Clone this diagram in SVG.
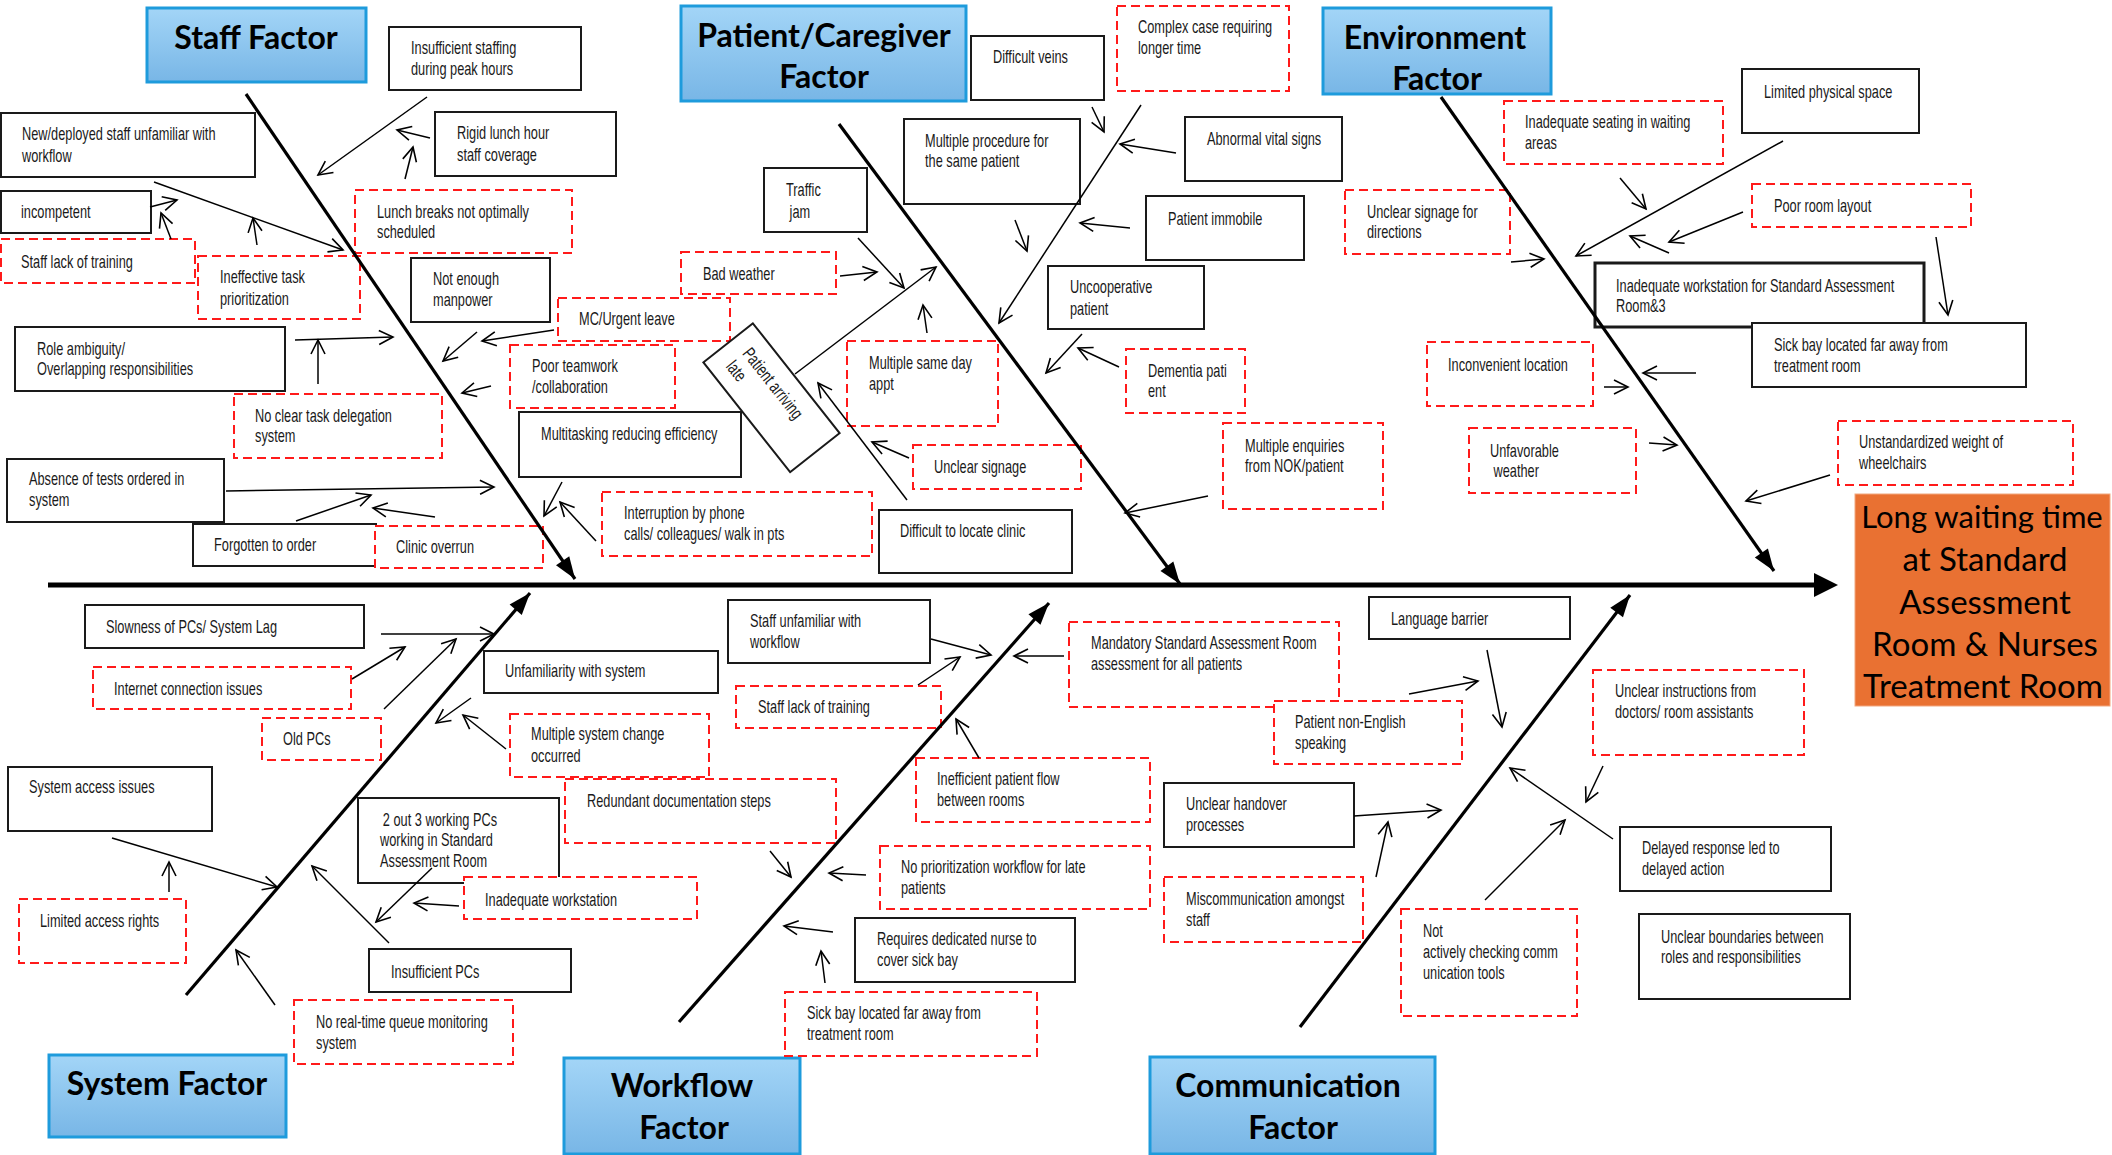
<svg xmlns="http://www.w3.org/2000/svg" width="2112" height="1155" viewBox="0 0 2112 1155">
<defs>
<linearGradient id="blue" x1="0" y1="0" x2="0" y2="1">
<stop offset="0" stop-color="#A3D5F7"/>
<stop offset="1" stop-color="#78B6E6"/>
</linearGradient>
<marker id="open" markerUnits="userSpaceOnUse" markerWidth="16" markerHeight="14" refX="15" refY="7" orient="auto" overflow="visible">
<path d="M1,0 L15,7 L1,14" fill="none" stroke="#000" stroke-width="1.6"/>
</marker>
<marker id="solid" markerUnits="userSpaceOnUse" markerWidth="24" markerHeight="16" refX="22" refY="8" orient="auto" overflow="visible">
<path d="M0,0 L22,8 L0,16 z" fill="#000"/>
</marker>
</defs>
<style>
.box{fill:#fff;stroke:#1a1a1a;stroke-width:2}
.dbox{fill:#fff;stroke:#FF1A1A;stroke-width:2;stroke-dasharray:9 5}
.hdr{fill:url(#blue);stroke:#1E9BDC;stroke-width:3}
.t{font-family:"Liberation Sans",Arial,sans-serif;font-size:18px;fill:#1a1a1a}
.ht{font-family:Lato,"Open Sans",sans-serif;font-weight:700;font-size:32px;fill:#000;text-anchor:middle}
.et{font-family:Lato,"Open Sans",sans-serif;font-size:33px;fill:#000;text-anchor:middle}
.ar{stroke:#000;stroke-width:1.5;fill:none;marker-end:url(#open)}
.bone{stroke:#000;stroke-width:3.2;fill:none;marker-end:url(#solid)}
</style>
<rect width="2112" height="1155" fill="#fff"/>

<g id="nodes">
<!-- Staff Factor -->
<g id="hdr-staff"><rect class="hdr" x="147" y="8" width="219" height="74"/><text class="ht" x="256" y="49">Staff Factor</text></g>
<g id="n-insuff-staff"><rect class="box" x="389" y="27" width="192" height="63"/><text class="t" transform="translate(411,54) scale(0.71,1)"><tspan x="0" y="0">Insufficient staffing</tspan><tspan x="0" y="21">during peak hours</tspan></text></g>
<g id="n-newstaff"><rect class="box" x="1" y="113" width="254" height="64"/><text class="t" transform="translate(22,140) scale(0.71,1)"><tspan x="0" y="0">New/deployed staff unfamiliar with</tspan><tspan x="0" y="22">workflow</tspan></text></g>
<g id="n-incompetent"><rect class="box" x="1" y="191" width="150" height="42"/><text class="t" transform="translate(21,218) scale(0.71,1)">incompetent</text></g>
<g id="n-stafftrain"><rect class="dbox" x="1" y="239" width="194" height="44"/><text class="t" transform="translate(21,268) scale(0.71,1)">Staff lack of training</text></g>
<g id="n-ineffective"><rect class="dbox" x="198" y="256" width="162" height="63"/><text class="t" transform="translate(220,283) scale(0.71,1)"><tspan x="0" y="0">Ineffective task</tspan><tspan x="0" y="22">prioritization</tspan></text></g>
<g id="n-rigidlunch"><rect class="box" x="435" y="112" width="181" height="64"/><text class="t" transform="translate(457,139) scale(0.71,1)"><tspan x="0" y="0">Rigid lunch hour</tspan><tspan x="0" y="22">staff coverage</tspan></text></g>
<g id="n-lunchbreaks"><rect class="dbox" x="355" y="190" width="217" height="63"/><text class="t" transform="translate(377,218) scale(0.71,1)"><tspan x="0" y="0">Lunch breaks not optimally</tspan><tspan x="0" y="20">scheduled</tspan></text></g>
<g id="n-manpower"><rect class="box" x="411" y="258" width="139" height="64"/><text class="t" transform="translate(433,285) scale(0.71,1)"><tspan x="0" y="0">Not enough</tspan><tspan x="0" y="21">manpower</tspan></text></g>
<g id="n-role"><rect class="box" x="15" y="327" width="270" height="64"/><text class="t" transform="translate(37,355) scale(0.71,1)"><tspan x="0" y="0">Role ambiguity/</tspan><tspan x="0" y="20">Overlapping responsibilities</tspan></text></g>
<g id="n-nodeleg"><rect class="dbox" x="234" y="394" width="208" height="64"/><text class="t" transform="translate(255,422) scale(0.71,1)"><tspan x="0" y="0">No clear task delegation</tspan><tspan x="0" y="20">system</tspan></text></g>
<g id="n-teamwork"><rect class="dbox" x="510" y="345" width="165" height="63"/><text class="t" transform="translate(532,372) scale(0.71,1)"><tspan x="0" y="0">Poor teamwork</tspan><tspan x="0" y="21">/collaboration</tspan></text></g>
<g id="n-mcleave"><rect class="dbox" x="558" y="298" width="172" height="43"/><text class="t" transform="translate(579,325) scale(0.71,1)">MC/Urgent leave</text></g>
<g id="n-absence"><rect class="box" x="7" y="459" width="217" height="63"/><text class="t" transform="translate(29,485) scale(0.71,1)"><tspan x="0" y="0">Absence of tests ordered in</tspan><tspan x="0" y="21">system</tspan></text></g>
<g id="n-forgotten"><rect class="box" x="193" y="524" width="183" height="42"/><text class="t" transform="translate(214,551) scale(0.71,1)">Forgotten to order</text></g>
<g id="n-overrun"><rect class="dbox" x="375" y="526" width="168" height="42"/><text class="t" transform="translate(396,553) scale(0.71,1)">Clinic overrun</text></g>
<g id="n-multitask"><rect class="box" x="519" y="412" width="222" height="65"/><text class="t" transform="translate(541,440) scale(0.71,1)">Multitasking reducing efficiency</text></g>
<g id="n-interrupt"><rect class="dbox" x="602" y="492" width="270" height="64"/><text class="t" transform="translate(624,519) scale(0.71,1)"><tspan x="0" y="0">Interruption by phone</tspan><tspan x="0" y="21">calls/  colleagues/ walk in pts</tspan></text></g>

<!-- Patient/Caregiver Factor -->
<g id="hdr-patient"><rect class="hdr" x="681" y="6" width="285" height="95"/><text class="ht" x="824" y="47">Patient/Caregiver</text><text class="ht" x="824" y="88">Factor</text></g>
<g id="n-veins"><rect class="box" x="971" y="36" width="133" height="64"/><text class="t" transform="translate(993,63) scale(0.71,1)">Difficult veins</text></g>
<g id="n-complex"><rect class="dbox" x="1117" y="6" width="172" height="85"/><text class="t" transform="translate(1138,33) scale(0.71,1)"><tspan x="0" y="0">Complex case requiring</tspan><tspan x="0" y="21">longer time</tspan></text></g>
<g id="n-multiproc"><rect class="box" x="904" y="119" width="176" height="85"/><text class="t" transform="translate(925,147) scale(0.71,1)"><tspan x="0" y="0">Multiple procedure for</tspan><tspan x="0" y="20">the same patient</tspan></text></g>
<g id="n-traffic"><rect class="box" x="764" y="168" width="103" height="64"/><text class="t" transform="translate(786,196) scale(0.71,1)"><tspan x="0" y="0">Traffic</tspan><tspan x="5" y="22">jam</tspan></text></g>
<g id="n-badweather"><rect class="dbox" x="681" y="252" width="155" height="42"/><text class="t" transform="translate(703,280) scale(0.71,1)">Bad weather</text></g>
<g id="n-vital"><rect class="box" x="1185" y="117" width="157" height="64"/><text class="t" transform="translate(1207,145) scale(0.71,1)">Abnormal vital  signs</text></g>
<g id="n-immobile"><rect class="box" x="1146" y="196" width="158" height="64"/><text class="t" transform="translate(1168,225) scale(0.71,1)">Patient immobile</text></g>
<g id="n-uncoop"><rect class="box" x="1048" y="266" width="156" height="63"/><text class="t" transform="translate(1070,293) scale(0.71,1)"><tspan x="0" y="0">Uncooperative</tspan><tspan x="0" y="22">patient</tspan></text></g>
<g id="n-dementia"><rect class="dbox" x="1126" y="349" width="119" height="64"/><text class="t" transform="translate(1148,377) scale(0.71,1)"><tspan x="0" y="0">Dementia pati</tspan><tspan x="0" y="20">ent</tspan></text></g>
<g id="n-sameday"><rect class="dbox" x="847" y="341" width="151" height="85"/><text class="t" transform="translate(869,369) scale(0.71,1)"><tspan x="0" y="0">Multiple same day</tspan><tspan x="0" y="21">appt</tspan></text></g>
<g id="n-arrivinglate" transform="translate(771.5,397.75) rotate(51.7)"><rect class="box" x="-70" y="-31.5" width="140" height="63"/><text class="t" transform="translate(-53,-4) scale(0.71,1)"><tspan x="0" y="0">Patient arriving</tspan><tspan x="0" y="21">late</tspan></text></g>
<g id="n-signage"><rect class="dbox" x="913" y="445" width="168" height="44"/><text class="t" transform="translate(934,473) scale(0.71,1)">Unclear signage</text></g>
<g id="n-locate"><rect class="box" x="879" y="510" width="193" height="63"/><text class="t" transform="translate(900,537) scale(0.71,1)">Difficult to locate clinic</text></g>
<g id="n-enquiries"><rect class="dbox" x="1223" y="423" width="160" height="86"/><text class="t" transform="translate(1245,452) scale(0.71,1)"><tspan x="0" y="0">Multiple enquiries</tspan><tspan x="0" y="20">from NOK/patient</tspan></text></g>

<!-- Environment Factor -->
<g id="hdr-env"><rect class="hdr" x="1323" y="8" width="228" height="86"/><text class="ht" x="1435" y="49">Environment</text><text class="ht" x="1437" y="90">Factor</text></g>
<g id="n-seating"><rect class="dbox" x="1504" y="101" width="219" height="63"/><text class="t" transform="translate(1525,128) scale(0.71,1)"><tspan x="0" y="0">Inadequate seating in waiting</tspan><tspan x="0" y="21">areas</tspan></text></g>
<g id="n-space"><rect class="box" x="1742" y="69" width="177" height="64"/><text class="t" transform="translate(1764,98) scale(0.71,1)">Limited physical space</text></g>
<g id="n-layout"><rect class="dbox" x="1752" y="184" width="219" height="43"/><text class="t" transform="translate(1774,212) scale(0.71,1)">Poor room layout</text></g>
<g id="n-signdir"><rect class="dbox" x="1345" y="190" width="165" height="64"/><text class="t" transform="translate(1367,218) scale(0.71,1)"><tspan x="0" y="0">Unclear signage for</tspan><tspan x="0" y="20">directions</tspan></text></g>
<g id="n-workstation"><rect class="box" x="1595" y="263" width="329" height="64" style="stroke-width:3"/><text class="t" transform="translate(1616,292) scale(0.71,1)"><tspan x="0" y="0">Inadequate workstation for Standard Assessment</tspan><tspan x="0" y="20">Room&amp;3</tspan></text></g>
<g id="n-sickbay"><rect class="box" x="1752" y="323" width="274" height="64"/><text class="t" transform="translate(1774,351) scale(0.71,1)"><tspan x="0" y="0">Sick bay located far away from</tspan><tspan x="0" y="21">treatment room</tspan></text></g>
<g id="n-location"><rect class="dbox" x="1427" y="342" width="166" height="64"/><text class="t" transform="translate(1448,371) scale(0.71,1)">Inconvenient location</text></g>
<g id="n-weather"><rect class="dbox" x="1469" y="428" width="167" height="65"/><text class="t" transform="translate(1490,457) scale(0.71,1)"><tspan x="0" y="0">Unfavorable</tspan><tspan x="5" y="20">weather</tspan></text></g>
<g id="n-wheelchair"><rect class="dbox" x="1838" y="421" width="235" height="64"/><text class="t" transform="translate(1859,448) scale(0.71,1)"><tspan x="0" y="0">Unstandardized weight of</tspan><tspan x="0" y="21">wheelchairs</tspan></text></g>

<!-- Effect -->
<g id="effect"><rect x="1855" y="494" width="255" height="212" fill="#E97132" stroke="#F2A77E" stroke-width="1"/>
<text class="et" x="1982" y="528" style="font-size:31px">Long waiting time</text>
<text class="et" x="1985" y="571">at Standard</text>
<text class="et" x="1985" y="614">Assessment</text>
<text class="et" x="1985" y="656">Room &amp; Nurses</text>
<text class="et" x="1983" y="698">Treatment Room</text></g>

<!-- System Factor -->
<g id="hdr-system"><rect class="hdr" x="49" y="1055" width="237" height="82"/><text class="ht" x="167" y="1095">System Factor</text></g>
<g id="n-slowness"><rect class="box" x="85" y="605" width="279" height="43"/><text class="t" transform="translate(106,633) scale(0.71,1)">Slowness of PCs/ System Lag</text></g>
<g id="n-internet"><rect class="dbox" x="93" y="667" width="258" height="42"/><text class="t" transform="translate(114,695) scale(0.71,1)">Internet connection issues</text></g>
<g id="n-oldpcs"><rect class="dbox" x="262" y="718" width="119" height="42"/><text class="t" transform="translate(283,745) scale(0.71,1)">Old PCs</text></g>
<g id="n-unfamiliar-sys"><rect class="box" x="484" y="651" width="234" height="42"/><text class="t" transform="translate(505,677) scale(0.71,1)">Unfamiliarity with system</text></g>
<g id="n-syschange"><rect class="dbox" x="510" y="714" width="199" height="63"/><text class="t" transform="translate(531,740) scale(0.71,1)"><tspan x="0" y="0">Multiple system change</tspan><tspan x="0" y="22">occurred</tspan></text></g>
<g id="n-access"><rect class="box" x="8" y="767" width="204" height="64"/><text class="t" transform="translate(29,793) scale(0.71,1)">System access issues</text></g>
<g id="n-rights"><rect class="dbox" x="19" y="899" width="167" height="64"/><text class="t" transform="translate(40,927) scale(0.71,1)">Limited access rights</text></g>
<g id="n-2of3"><rect class="box" x="358" y="798" width="201" height="85"/><text class="t" transform="translate(380,826) scale(0.71,1)"><tspan x="4" y="0">2 out 3 working PCs</tspan><tspan x="0" y="20">working in Standard</tspan><tspan x="0" y="41">Assessment Room</tspan></text></g>
<g id="n-sysworkstation"><rect class="dbox" x="464" y="877" width="233" height="42"/><text class="t" transform="translate(485,906) scale(0.71,1)">Inadequate workstation</text></g>
<g id="n-insuffpc"><rect class="box" x="369" y="949" width="202" height="43"/><text class="t" transform="translate(391,978) scale(0.71,1)">Insufficient PCs</text></g>
<g id="n-queue"><rect class="dbox" x="294" y="1000" width="219" height="64"/><text class="t" transform="translate(316,1028) scale(0.71,1)"><tspan x="0" y="0">No real-time queue monitoring</tspan><tspan x="0" y="21">system</tspan></text></g>

<!-- Workflow Factor -->
<g id="hdr-workflow"><rect class="hdr" x="564" y="1058" width="236" height="96"/><text class="ht" x="682" y="1097">Workflow</text><text class="ht" x="684" y="1139">Factor</text></g>
<g id="n-staffunfam"><rect class="box" x="728" y="600" width="202" height="63"/><text class="t" transform="translate(750,627) scale(0.71,1)"><tspan x="0" y="0">Staff unfamiliar with</tspan><tspan x="0" y="21">workflow</tspan></text></g>
<g id="n-wf-training"><rect class="dbox" x="736" y="686" width="205" height="42"/><text class="t" transform="translate(758,713) scale(0.71,1)">Staff lack of training</text></g>
<g id="n-mandatory"><rect class="dbox" x="1069" y="622" width="270" height="85"/><text class="t" transform="translate(1091,649) scale(0.71,1)"><tspan x="0" y="0">Mandatory Standard Assessment Room</tspan><tspan x="0" y="21">assessment for all patients</tspan></text></g>
<g id="n-flow"><rect class="dbox" x="916" y="758" width="234" height="64"/><text class="t" transform="translate(937,785) scale(0.71,1)"><tspan x="0" y="0">Inefficient patient flow</tspan><tspan x="0" y="21">between rooms</tspan></text></g>
<g id="n-redundant"><rect class="dbox" x="565" y="779" width="271" height="64"/><text class="t" transform="translate(587,807) scale(0.71,1)">Redundant documentation steps</text></g>
<g id="n-prioritization"><rect class="dbox" x="880" y="846" width="270" height="63"/><text class="t" transform="translate(901,873) scale(0.71,1)"><tspan x="0" y="0">No prioritization workflow for late</tspan><tspan x="0" y="21">patients</tspan></text></g>
<g id="n-dedicated"><rect class="box" x="855" y="918" width="220" height="64"/><text class="t" transform="translate(877,945) scale(0.71,1)"><tspan x="0" y="0">Requires dedicated nurse to</tspan><tspan x="0" y="21">cover sick bay</tspan></text></g>
<g id="n-wf-sickbay"><rect class="dbox" x="785" y="992" width="252" height="64"/><text class="t" transform="translate(807,1019) scale(0.71,1)"><tspan x="0" y="0">Sick bay located far away from</tspan><tspan x="0" y="21">treatment room</tspan></text></g>

<!-- Communication Factor -->
<g id="hdr-comm"><rect class="hdr" x="1150" y="1057" width="285" height="97"/><text class="ht" x="1288" y="1097">Communication</text><text class="ht" x="1293" y="1139">Factor</text></g>
<g id="n-language"><rect class="box" x="1369" y="597" width="201" height="42"/><text class="t" transform="translate(1391,625) scale(0.71,1)">Language barrier</text></g>
<g id="n-nonenglish"><rect class="dbox" x="1274" y="701" width="188" height="63"/><text class="t" transform="translate(1295,728) scale(0.71,1)"><tspan x="0" y="0">Patient non-English</tspan><tspan x="0" y="21">speaking</tspan></text></g>
<g id="n-handover"><rect class="box" x="1164" y="783" width="190" height="64"/><text class="t" transform="translate(1186,810) scale(0.71,1)"><tspan x="0" y="0">Unclear handover</tspan><tspan x="0" y="21">processes</tspan></text></g>
<g id="n-miscomm"><rect class="dbox" x="1164" y="877" width="199" height="65"/><text class="t" transform="translate(1186,905) scale(0.71,1)"><tspan x="0" y="0">Miscommunication amongst</tspan><tspan x="0" y="21">staff</tspan></text></g>
<g id="n-notchecking"><rect class="dbox" x="1401" y="909" width="176" height="107"/><text class="t" transform="translate(1423,937) scale(0.71,1)"><tspan x="0" y="0">Not</tspan><tspan x="0" y="21">actively checking comm</tspan><tspan x="0" y="42">unication tools</tspan></text></g>
<g id="n-delayed"><rect class="box" x="1620" y="827" width="211" height="64"/><text class="t" transform="translate(1642,854) scale(0.71,1)"><tspan x="0" y="0">Delayed response led to</tspan><tspan x="0" y="21">delayed action</tspan></text></g>
<g id="n-instructions"><rect class="dbox" x="1593" y="670" width="211" height="85"/><text class="t" transform="translate(1615,697) scale(0.71,1)"><tspan x="0" y="0">Unclear instructions from</tspan><tspan x="0" y="21">doctors/ room assistants</tspan></text></g>
<g id="n-boundaries"><rect class="box" x="1639" y="914" width="211" height="85"/><text class="t" transform="translate(1661,943) scale(0.71,1)"><tspan x="0" y="0">Unclear boundaries between</tspan><tspan x="0" y="20">roles and responsibilities</tspan></text></g>
</g>

<g id="connectors">
<!-- spine -->
<line x1="48" y1="585" x2="1818" y2="585" stroke="#000" stroke-width="5"/>
<polygon points="1814,573 1838,585 1814,597" fill="#000"/>
<!-- bones -->
<line class="bone" x1="246" y1="94" x2="575" y2="579"/>
<line class="bone" x1="839" y1="124" x2="1180" y2="584"/>
<line class="bone" x1="1441" y1="97" x2="1774" y2="571"/>
<line class="bone" x1="186" y1="995" x2="530" y2="593"/>
<line class="bone" x1="679" y1="1022" x2="1049" y2="603"/>
<line class="bone" x1="1300" y1="1027" x2="1630" y2="595"/>
<!-- staff -->
<line class="ar" x1="427" y1="97" x2="318" y2="175"/>
<line class="ar" x1="430" y1="138" x2="397" y2="130"/>
<line class="ar" x1="405" y1="179" x2="413" y2="147"/>
<line class="ar" x1="154" y1="182" x2="343" y2="250"/>
<line class="ar" x1="150" y1="207" x2="177" y2="200"/>
<line class="ar" x1="171" y1="239" x2="161" y2="213"/>
<line class="ar" x1="257" y1="245" x2="253" y2="218"/>
<line class="ar" x1="295" y1="340" x2="393" y2="337"/>
<line class="ar" x1="318" y1="384" x2="318" y2="340"/>
<line class="ar" x1="477" y1="332" x2="443" y2="361"/>
<line class="ar" x1="554" y1="330" x2="482" y2="341"/>
<line class="ar" x1="491" y1="386" x2="462" y2="393"/>
<line class="ar" x1="226" y1="491" x2="494" y2="487"/>
<line class="ar" x1="296" y1="521" x2="371" y2="495"/>
<line class="ar" x1="435" y1="517" x2="373" y2="508"/>
<line class="ar" x1="562" y1="482" x2="544" y2="516"/>
<line class="ar" x1="596" y1="541" x2="560" y2="502"/>
<!-- patient -->
<line class="ar" x1="795" y1="374" x2="936" y2="267"/>
<line class="ar" x1="858" y1="238" x2="904" y2="288"/>
<line class="ar" x1="840" y1="276" x2="877" y2="272"/>
<line class="ar" x1="927" y1="333" x2="923" y2="305"/>
<line class="ar" x1="909" y1="458" x2="872" y2="442"/>
<line class="ar" x1="907" y1="500" x2="818" y2="383"/>
<line class="ar" x1="1015" y1="220" x2="1027" y2="251"/>
<line class="ar" x1="1092" y1="107" x2="1104" y2="132"/>
<line class="ar" x1="1141" y1="105" x2="999" y2="323"/>
<line class="ar" x1="1176" y1="153" x2="1120" y2="144"/>
<line class="ar" x1="1130" y1="228" x2="1080" y2="223"/>
<line class="ar" x1="1082" y1="334" x2="1046" y2="373"/>
<line class="ar" x1="1119" y1="367" x2="1078" y2="348"/>
<line class="ar" x1="1208" y1="496" x2="1125" y2="513"/>
<!-- environment -->
<line class="ar" x1="1783" y1="141" x2="1576" y2="256"/>
<line class="ar" x1="1620" y1="178" x2="1646" y2="209"/>
<line class="ar" x1="1743" y1="212" x2="1669" y2="242"/>
<line class="ar" x1="1669" y1="253" x2="1630" y2="236"/>
<line class="ar" x1="1936" y1="237" x2="1948" y2="315"/>
<line class="ar" x1="1511" y1="262" x2="1544" y2="259"/>
<line class="ar" x1="1696" y1="373" x2="1643" y2="373"/>
<line class="ar" x1="1604" y1="387" x2="1628" y2="387"/>
<line class="ar" x1="1649" y1="443" x2="1677" y2="445"/>
<line class="ar" x1="1830" y1="475" x2="1746" y2="501"/>
<!-- system -->
<line class="ar" x1="381" y1="634" x2="494" y2="634"/>
<line class="ar" x1="352" y1="679" x2="405" y2="647"/>
<line class="ar" x1="384" y1="709" x2="456" y2="639"/>
<line class="ar" x1="471" y1="698" x2="436" y2="723"/>
<line class="ar" x1="506" y1="749" x2="463" y2="715"/>
<line class="ar" x1="112" y1="838" x2="277" y2="887"/>
<line class="ar" x1="169" y1="892" x2="169" y2="862"/>
<line class="ar" x1="432" y1="868" x2="376" y2="922"/>
<line class="ar" x1="459" y1="906" x2="414" y2="903"/>
<line class="ar" x1="389" y1="943" x2="312" y2="866"/>
<line class="ar" x1="275" y1="1005" x2="236" y2="950"/>
<!-- workflow -->
<line class="ar" x1="931" y1="639" x2="991" y2="655"/>
<line class="ar" x1="918" y1="685" x2="960" y2="657"/>
<line class="ar" x1="1064" y1="656" x2="1014" y2="656"/>
<line class="ar" x1="979" y1="758" x2="956" y2="719"/>
<line class="ar" x1="770" y1="851" x2="791" y2="877"/>
<line class="ar" x1="866" y1="875" x2="829" y2="873"/>
<line class="ar" x1="833" y1="932" x2="784" y2="926"/>
<line class="ar" x1="825" y1="983" x2="821" y2="951"/>
<!-- communication -->
<line class="ar" x1="1487" y1="650" x2="1502" y2="727"/>
<line class="ar" x1="1409" y1="694" x2="1478" y2="681"/>
<line class="ar" x1="1354" y1="816" x2="1441" y2="810"/>
<line class="ar" x1="1376" y1="877" x2="1388" y2="822"/>
<line class="ar" x1="1485" y1="900" x2="1565" y2="820"/>
<line class="ar" x1="1613" y1="839" x2="1510" y2="768"/>
<line class="ar" x1="1603" y1="766" x2="1586" y2="802"/>
</g>
</svg>
